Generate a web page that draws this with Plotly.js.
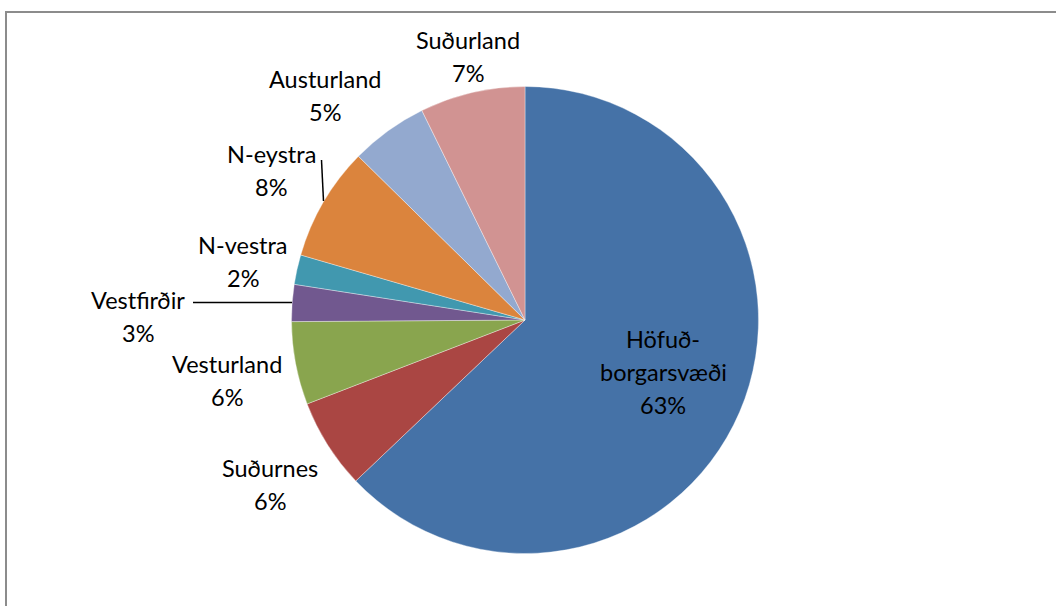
<!DOCTYPE html>
<html>
<head>
<meta charset="utf-8">
<script src="https://cdn.plot.ly/plotly-3.0.1.min.js"></script>
<style>html,body{margin:0;padding:0;background:#fff;}#chart{width:1056px;height:606px;}</style>
</head>
<body>
<div id="chart"></div>
<script>
// Data
const regions = ["Höfuðborgarsvæði", "Suðurnes", "Vesturland", "Vestfirðir", "N-vestra", "N-eystra", "Austurland", "Suðurland"];
const labelLines = [["Höfuð-", "borgarsvæði"], ["Suðurnes"], ["Vesturland"], ["Vestfirðir"], ["N-vestra"], ["N-eystra"], ["Austurland"], ["Suðurland"]];
const shares = [62.9, 6.25, 5.74, 2.55, 2.05, 7.87, 5.36, 7.28];
const colors = ["#4572A7", "#AA4643", "#89A54E", "#71588F", "#4198AF", "#DB843D", "#93A9CF", "#D19392"];

// Layout (pixel positions of label centres)
const W = 1056, H = 606;
const cx = 525, cy = 320, R = 233.5;
const labelPos = [[663, 339], [270, 468], [227, 364], [138, 300], [243, 245], [271, 154], [325, 79], [468, 40]];
const lineGap = 33;
const px = x => x / W;
const py = y => 1 - y / H;

const annotations = [];
regions.forEach((r, i) => {
  const lines = labelLines[i].concat([Math.round(shares[i]) + '%']);
  lines.forEach((t, k) => {
    annotations.push({
      text: t, xref: 'paper', yref: 'paper',
      x: px(labelPos[i][0]), y: py(labelPos[i][1] + k * lineGap),
      xanchor: 'center', yanchor: 'middle', showarrow: false,
      font: {family: 'Lato, "Open Sans", sans-serif', size: 23.5, color: '#000'}
    });
  });
});

const shapes = [
  {type: 'rect', xref: 'paper', yref: 'paper', x0: px(6), x1: 1.02, y0: -0.05, y1: py(12),
   line: {color: '#8c8c8c', width: 2}, fillcolor: 'rgba(0,0,0,0)'},
  {type: 'line', xref: 'paper', yref: 'paper', x0: px(321.5), y0: py(160), x1: px(323.5), y1: py(201),
   line: {color: '#000', width: 1.5}},
  {type: 'line', xref: 'paper', yref: 'paper', x0: px(193), y0: py(302.5), x1: px(292), y1: py(302.5),
   line: {color: '#000', width: 1.5}}
];

const trace = {
  type: 'pie', labels: regions, values: shares, sort: false, direction: 'clockwise', rotation: 0,
  marker: {colors: colors, line: {color: 'rgba(255,255,255,0.6)', width: 0.6}},
  textinfo: 'none', hoverinfo: 'label+percent',
  domain: {x: [px(cx - R), px(cx + R)], y: [py(cy + R), py(cy - R)]}
};

Plotly.newPlot('chart', [trace], {
  width: W, height: H, margin: {l: 0, r: 0, t: 0, b: 0},
  paper_bgcolor: '#fff', showlegend: false,
  annotations: annotations, shapes: shapes
}, {displayModeBar: false, staticPlot: true});
</script>
</body>
</html>
